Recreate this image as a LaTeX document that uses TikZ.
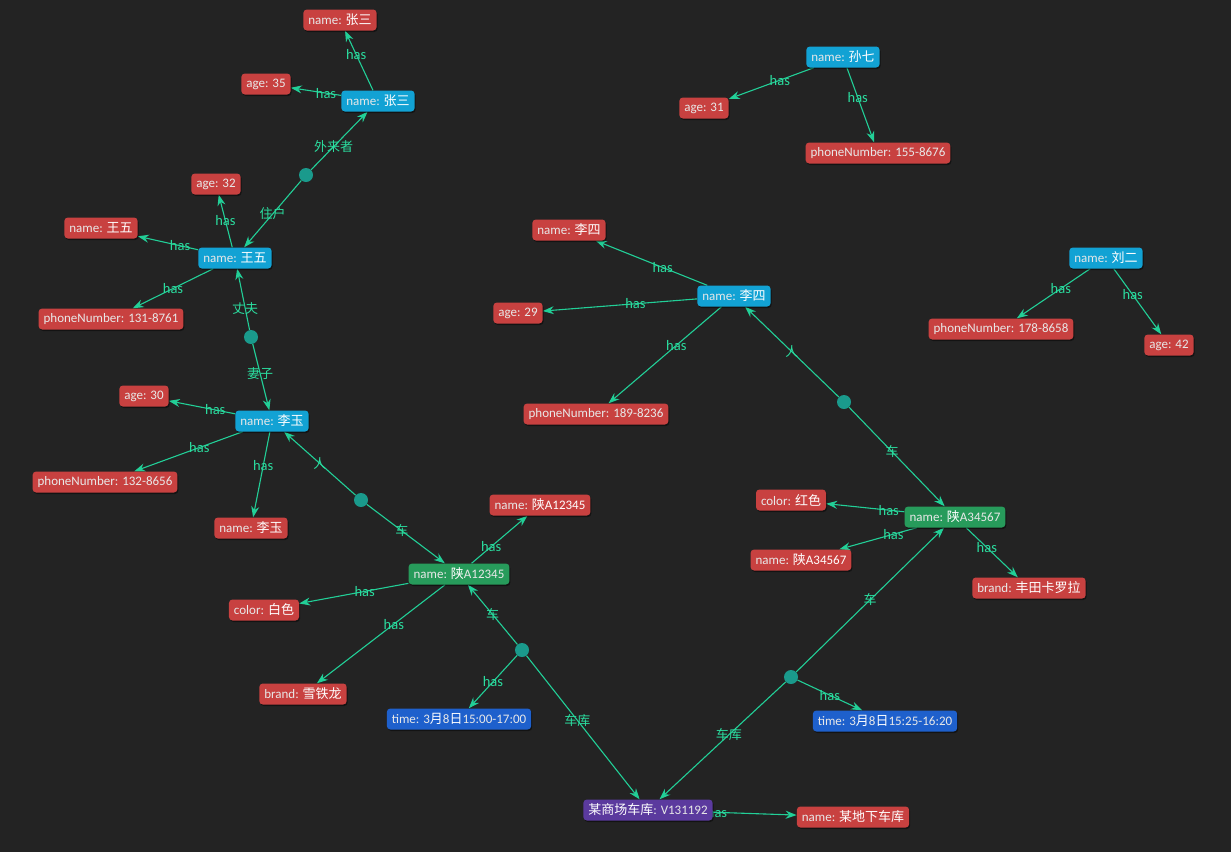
\documentclass[tikz,border=0pt]{standalone}
\usepackage{fontspec}
\setmainfont{Carlito}
\newfontfamily\cjk{Noto Sans CJK SC}
\usetikzlibrary{arrows.meta,shadows}
\definecolor{bgc}{HTML}{232323}
\definecolor{personc}{HTML}{12A2D4}
\definecolor{attrc}{HTML}{C84140}
\definecolor{carc}{HTML}{279B5B}
\definecolor{timec}{HTML}{1E60CC}
\definecolor{garc}{HTML}{5B3A9E}
\definecolor{edgec}{HTML}{22CF97}
\definecolor{elabc}{HTML}{2BDD9F}
\definecolor{dotc}{HTML}{1A9A8C}
\pgfdeclarelayer{bg}
\pgfsetlayers{bg,main}
\newcommand\kk[1]{{\color{white!82!gray}#1}}
\newcommand\zh[1]{{\cjk\fontsize{13}{14}\selectfont #1}}
\tikzset{
  base/.style={rounded corners=3.5pt, inner xsep=5pt, inner ysep=0pt, minimum height=21pt,
    text=white, font=\fontsize{13}{14}\selectfont,
    drop shadow={shadow xshift=1pt, shadow yshift=-1.5pt, fill=black, opacity=0.45}},
  person/.style={base, fill=personc},
  attr/.style={base, fill=attrc},
  car/.style={base, fill=carc},
  timebox/.style={base, fill=timec},
  garbox/.style={base, fill=garc},
  dotn/.style={circle, fill=dotc, minimum size=14pt, inner sep=0pt},
  edge/.style={draw=edgec, line width=1.1pt, -{Stealth[length=11pt,width=8pt]}},
  elab/.style={text=elabc, font=\fontsize{14.5}{15}\selectfont, inner sep=1pt, midway}
}
\begin{document}
\begin{tikzpicture}[x=1pt,y=-1pt]
\useasboundingbox (0,0) rectangle (1231,852);
% person nodes
\node[person] (zs) at (378,101) {\kk{name:} \zh{张三}};
\node[person] (ww) at (235,258) {\kk{name:} \zh{王五}};
\node[person] (ly) at (272,421) {\kk{name:} \zh{李玉}};
\node[person] (ls) at (734,296) {\kk{name:} \zh{李四}};
\node[person] (sq) at (843,57) {\kk{name:} \zh{孙七}};
\node[person] (le) at (1106,258) {\kk{name:} \zh{刘二}};
% attributes
\node[attr] (zsn) at (340,20) {\kk{name:} \zh{张三}};
\node[attr] (zsa) at (266,84) {\kk{age: 35}};
\node[attr] (wwa) at (216,184) {\kk{age: 32}};
\node[attr] (wwn) at (101,228) {\kk{name:} \zh{王五}};
\node[attr] (wwp) at (111,319) {\kk{phoneNumber: 131-8761}};
\node[attr] (lya) at (144,396) {\kk{age: 30}};
\node[attr] (lyp) at (105,482) {\kk{phoneNumber: 132-8656}};
\node[attr] (lyn) at (251,528) {\kk{name:} \zh{李玉}};
\node[attr] (lsn) at (569,230) {\kk{name:} \zh{李四}};
\node[attr] (lsa) at (518,313) {\kk{age: 29}};
\node[attr] (lsp) at (596,414) {\kk{phoneNumber: 189-8236}};
\node[attr] (sqa) at (704,108) {\kk{age: 31}};
\node[attr] (sqp) at (878,153) {\kk{phoneNumber: 155-8676}};
\node[attr] (lep) at (1001,329) {\kk{phoneNumber: 178-8658}};
\node[attr] (lea) at (1169,345) {\kk{age: 42}};
\node[attr] (c1n) at (540,505) {\kk{name:} \zh{陕}A12345};
\node[attr] (c1c) at (264,610) {\kk{color:} \zh{白色}};
\node[attr] (c1b) at (303,694) {\kk{brand:} \zh{雪铁龙}};
\node[attr] (c2c) at (791,500) {\kk{color:} \zh{红色}};
\node[attr] (c2n) at (801,560) {\kk{name:} \zh{陕}A34567};
\node[attr] (c2b) at (1029,588) {\kk{brand:} \zh{丰田卡罗拉}};
\node[attr] (gn) at (853,817) {\kk{name:} \zh{某地下车库}};
% cars, times, garage
\node[car] (c1) at (459,574) {\kk{name:} \zh{陕}\kk{A12345}};
\node[car] (c2) at (955,517) {\kk{name:} \zh{陕}\kk{A34567}};
\node[timebox] (t1) at (459,719) {\kk{time: 3}\zh{月}\kk{8}\zh{日}\kk{15:00-17:00}};
\node[timebox] (t2) at (885,721) {\kk{time: 3}\zh{月}\kk{8}\zh{日}\kk{15:25-16:20}};
\node[garbox] (g) at (648,810) {\zh{某商场车库}\kk{: V131192}};
% relation dots
\node[dotn] (d1) at (306,175) {};
\node[dotn] (d2) at (251,337) {};
\node[dotn] (d3) at (361,500) {};
\node[dotn] (d4) at (844,402) {};
\node[dotn] (d5) at (522,650) {};
\node[dotn] (d6) at (791,677) {};
\begin{pgfonlayer}{bg}
\fill[bgc] (0,0) rectangle (1231,852);
\draw[edge] (zs) -- node[elab,pos=0.6]{has} (zsn);
\draw[edge] (zs) -- node[elab,pos=0.3]{has} (zsa);
\draw[edge] (ww) -- node[elab]{has} (wwa);
\draw[edge] (ww) -- node[elab,pos=0.3]{has} (wwn);
\draw[edge] (ww) -- node[elab]{has} (wwp);
\draw[edge] (ly) -- node[elab,pos=0.3]{has} (lya);
\draw[edge] (ly) -- node[elab,pos=0.4]{has} (lyp);
\draw[edge] (ly) -- node[elab,pos=0.4]{has} (lyn);
\draw[edge] (ls) -- node[elab,pos=0.4]{has} (lsn);
\draw[edge] (ls) -- node[elab,pos=0.4]{has} (lsa);
\draw[edge] (ls) -- node[elab,pos=0.4]{has} (lsp);
\draw[edge] (sq) -- node[elab,pos=0.4]{has} (sqa);
\draw[edge] (sq) -- node[elab,pos=0.4]{has} (sqp);
\draw[edge] (le) -- node[elab,pos=0.4]{has} (lep);
\draw[edge] (le) -- node[elab,pos=0.4]{has} (lea);
\draw[edge] (c1) -- node[elab,pos=0.35]{has} (c1n);
\draw[edge] (c1) -- node[elab,pos=0.4]{has} (c1c);
\draw[edge] (c1) -- node[elab,pos=0.4]{has} (c1b);
\draw[edge] (c2) -- node[elab,pos=0.2]{has} (c2c);
\draw[edge] (c2) -- node[elab,pos=0.3]{has} (c2n);
\draw[edge] (c2) -- node[elab,pos=0.4]{has} (c2b);
\draw[edge] (g) -- node[elab,pos=0.05]{has} (gn);
\draw[edge] (d5) -- node[elab]{has} (t1);
\draw[edge] (d6) -- node[elab]{has} (t2);
\draw[edge] (d1) -- node[elab]{\zh{住户}} (ww);
\draw[edge] (d1) -- node[elab,pos=0.4]{\zh{外来者}} (zs);
\draw[edge] (d2) -- node[elab,pos=0.35]{\zh{丈夫}} (ww);
\draw[edge] (d2) -- node[elab,pos=0.45]{\zh{妻子}} (ly);
\draw[edge] (d3) -- node[elab,pos=0.5]{\zh{人}} (ly);
\draw[edge] (d3) -- node[elab,pos=0.45]{\zh{车}} (c1);
\draw[edge] (d4) -- node[elab,pos=0.5]{\zh{人}} (ls);
\draw[edge] (d4) -- node[elab,pos=0.45]{\zh{车}} (c2);
\draw[edge] (d5) -- node[elab]{\zh{车}} (c1);
\draw[edge] (d5) -- node[elab,pos=0.45]{\zh{车库}} (g);
\draw[edge] (d6) -- node[elab]{\zh{车}} (c2);
\draw[edge] (d6) -- node[elab,pos=0.45]{\zh{车库}} (g);
\end{pgfonlayer}
\end{tikzpicture}
\end{document}
